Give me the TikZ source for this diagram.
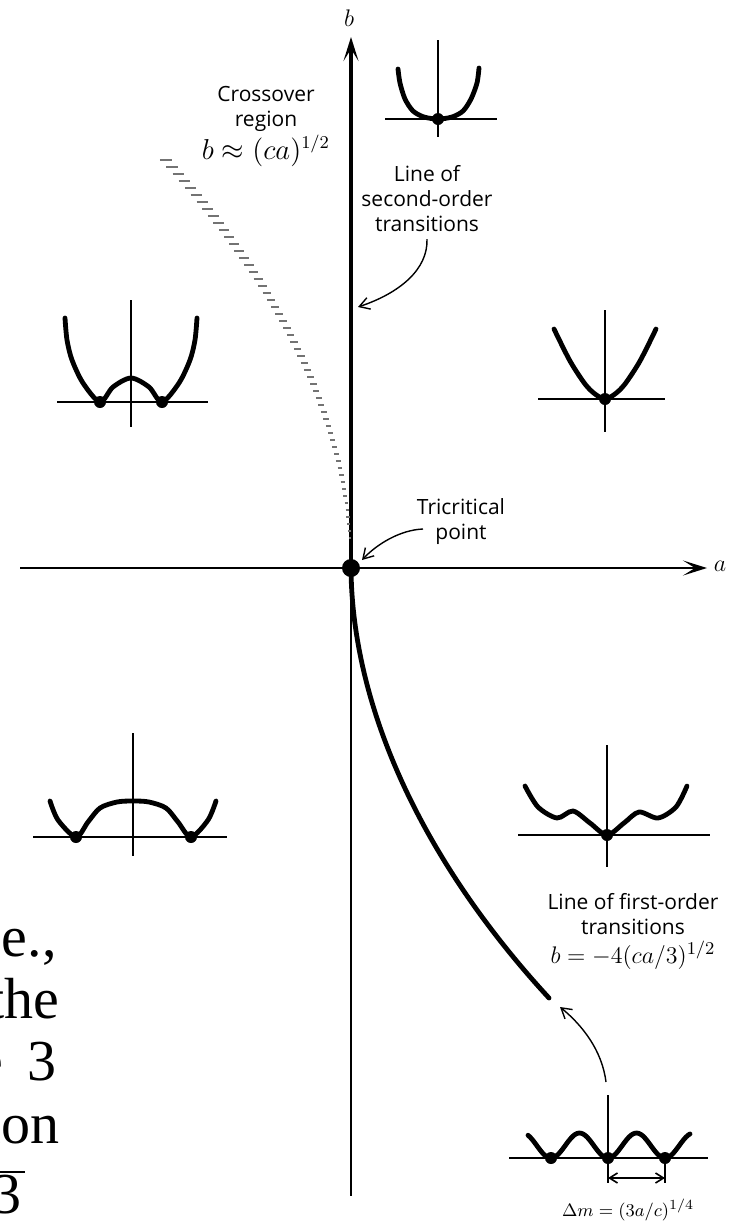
\documentclass[tikz,border=0pt]{standalone}
\usepackage{fontspec}
\usetikzlibrary{arrows.meta}
\newfontfamily\pagefont{Liberation Serif}
\newfontfamily\labelfont{Open Sans}

\begin{document}
\begin{tikzpicture}[x=0.5pt, y=-0.5pt,
    axis/.style={line width=1pt},
    frame/.style={line width=0.8pt},
    well/.style={line width=2.4pt, line cap=round, line join=round},
    note/.style={line width=0.7pt, -{Straight Barb[length=5pt, width=6pt]}},
    hatch/.style={black!55, line width=1.1pt},
    lbl/.style={font=\fontsize{10.5}{12.5}\selectfont\labelfont, align=center},
    pg/.style={font=\fontsize{29}{29}\selectfont\pagefont, anchor=base east, inner sep=0pt}]
  \useasboundingbox (0,0) rectangle (731,1232);
  \clip (0,0) rectangle (731,1232);

  \coordinate (O) at (351,568);
  \coordinate (btop) at (351,37);
  \coordinate (bbot) at (351,1196);
  \coordinate (aleft) at (20,568);
  \coordinate (aright) at (707,568);
  \coordinate (fo) at (549,998);

  \draw[axis, -{Stealth[length=12pt, width=7.5pt, inset=6pt]}] (aleft) -- (aright);
  \draw[axis] (O) -- (bbot);
  \draw[line width=2pt, -{Stealth[length=12pt, width=7.5pt, inset=6pt]}] (O) -- (btop);
  \draw[well] (O) .. controls (352,705) and (420,858) .. (fo);
  \foreach \h in {30,37,...,408}
    \draw[hatch] ({351-186*(\h/409)^2-1-5*\h/409}, {568-\h}) -- ++({2+10*\h/409},0);
  \fill (O) circle[radius=4.5pt];

  \node (blab) at (349,18) {\large $b$};
  \node (alab) at (720,566) {\large $a$};
  \node[lbl] (cross) at (266,126) {Crossover\\region\\[1pt]{\fontsize{13.5}{14}\selectfont $b\approx(ca)^{1/2}$}};
  \node[lbl] (lso) at (427,199) {Line of\\second-order\\transitions};
  \node[lbl] (ltri) at (461,522) {Tricritical\\point};
  \node[lbl] (lfo) at (633,931) {Line of first-order\\transitions\\[2pt]{\fontsize{12.5}{13}\selectfont $b=-4(ca/3)^{1/2}$}};
  \node (dm) at (628,1210) {\fontsize{9.5}{10}\selectfont $\Delta m=(3a/c)^{1/4}$};

  \coordinate (so) at (358,307);
  \coordinate (tt) at (423,529);
  \coordinate (tp) at (362,560);
  \coordinate (dt) at (606,1082);
  \coordinate (fe) at (560,1007);
  \draw[note] (lso.south) .. controls +(1,30) and +(42,-14) .. (so);
  \draw[note] (tt) .. controls (400,530) and (377,544) .. (tp);
  \draw[note] (dt) .. controls (602,1050) and (582,1025) .. (fe);

  % top: flat quartic
  \begin{scope}[shift={(438,119)}, yscale=-1]
    \draw[frame] (0,79) -- (0,-18) (-53,0) -- (59,0);
    \draw[well] plot[smooth] coordinates {(-40,50) (-38,36) (-33,20) (-25,8) (-14,2) (0,0) (14,2) (25,8) (33,20) (39,36) (41,51)};
    \fill (0,0) circle[radius=3pt];
  \end{scope}
  % right: single well
  \begin{scope}[shift={(605,399)}, yscale=-1]
    \draw[frame] (0,89) -- (0,-33) (-67,0) -- (60,0);
    \draw[well] plot[smooth] coordinates {(-51,70) (-35,38) (-20,15) (-10,5) (0,0) (10,5) (20,15) (35,38) (51,70)};
    \fill (0,0) circle[radius=3pt];
  \end{scope}
  % left: double well
  \begin{scope}[shift={(131,402)}, yscale=-1]
    \draw[frame] (0,102) -- (0,-25) (-74,0) -- (77,0);
    \draw[well] plot[smooth] coordinates {(-66,84) (-64,62) (-59,42) (-48,19) (-31,0) (-18,15) (0,24) (18,15) (31,0) (48,19) (59,42) (64,62) (66,84)};
    \fill (-31,0) circle[radius=3pt] (31,0) circle[radius=3pt];
  \end{scope}
  % bottom left: wide double well
  \begin{scope}[shift={(133,837)}, yscale=-1]
    \draw[frame] (0,104) -- (0,-19) (-100,0) -- (94,0);
    \draw[well] plot[smooth] coordinates {(-83,36) (-75,17) (-57,0) (-45,15) (-33,29) (-16,35) (0,36) (16,35) (33,29) (45,15) (58,0) (75,17) (83,36)};
    \fill (-57,0) circle[radius=3pt] (58,0) circle[radius=3pt];
  \end{scope}
  % bottom right: metastable side wells
  \begin{scope}[shift={(607,835)}, yscale=-1]
    \draw[frame] (0,90) -- (0,-32) (-89,0) -- (103,0);
    \draw[well] plot[smooth] coordinates {(-82,49) (-69,28) (-50,17) (-34,24) (-17,12) (0,0) (17,12) (32,23) (51,17) (69,28) (80,49)};
    \fill (0,0) circle[radius=3pt];
  \end{scope}
  % bottom: three equal wells
  \begin{scope}[shift={(608,1158)}, yscale=-1]
    \draw[frame] (0,63) -- (0,-25) (-99,0) -- (100,0) (57,0) -- (57,-25);
    \draw[well] plot[domain=-80:82, samples=80] (\x, {25*sin(180*\x/57)^2});
    \fill (-57,0) circle[radius=3pt] (0,0) circle[radius=3pt] (57,0) circle[radius=3pt];
    \draw[frame, {Straight Barb[length=4pt, width=5pt]}-{Straight Barb[length=4pt, width=5pt]}] (0,-20) -- (57,-20);
  \end{scope}

  \node[pg] (p1) at (57,956) {e.,};
  \node[pg] (p2) at (60,1018) {the};
  \node[pg] (p3) at (57,1080) {e\hspace{12pt}3};
  \node[pg] (p4) at (60,1143) {ion};
  \node[pg] (p5) at (22,1213) {3};
  \draw[line width=1pt] (0,1172) -- (25,1172);
\end{tikzpicture}
\end{document}
